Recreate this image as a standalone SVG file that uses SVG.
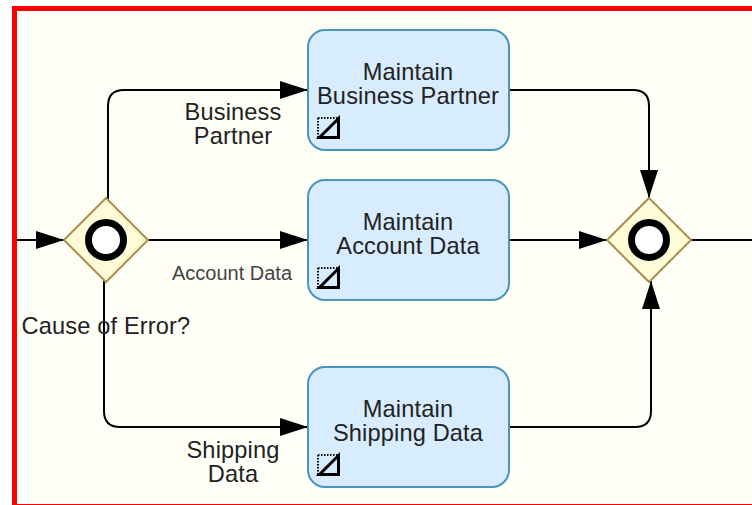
<svg xmlns="http://www.w3.org/2000/svg" width="752" height="505" viewBox="0 0 752 505">
<defs>
<marker id="arrow" markerUnits="userSpaceOnUse" markerWidth="30" markerHeight="22" refX="29" refY="11" orient="auto"><path d="M1 2 L29 11 L1 20 Z" fill="#000"/></marker>
<g id="sub"><path d="M318 118 H339 M318 118 V138" fill="none" stroke="#000" stroke-width="2" stroke-dasharray="1.500 1.500"/><path d="M338.500 118.500 V137.500 H319.500 Z" fill="none" stroke="#000" stroke-width="3"/></g>
</defs>
<style>
.task{fill:#d8ecff;stroke:#4a94b8;stroke-width:2}
.gw{fill:#fffbd6;stroke:#a8904f;stroke-width:2}
.ring{fill:#fff;stroke:#000;stroke-width:7}
.flow{fill:none;stroke:#000;stroke-width:2}
text{font-family:"Liberation Sans",Arial,sans-serif;font-size:23.600px;letter-spacing:.15px;fill:#222;text-anchor:middle}
</style>
<rect x="14.500" y="8.500" width="745" height="498" fill="#fffff7" stroke="#ff0000" stroke-width="5"/>
<g id="connectors">
<path class="flow" d="M17 240 H64" marker-end="url(#arrow)"/>
<path class="flow" d="M108 199 V106 Q108 90 124 90 H308" marker-end="url(#arrow)"/>
<path class="flow" d="M148 240 H308" marker-end="url(#arrow)"/>
<path class="flow" d="M104 281 V411 Q104 427 120 427 H308" marker-end="url(#arrow)"/>
<path class="flow" d="M509 90 H633 Q649 90 649 106 V198" marker-end="url(#arrow)"/>
<path class="flow" d="M509 240 H607" marker-end="url(#arrow)"/>
<path class="flow" d="M509 427 H635 Q651 427 651 411 V281" marker-end="url(#arrow)"/>
<path class="flow" d="M691 240 H752"/>
</g>
<g id="gateway-split"><path class="gw" d="M106 198 L148 240 L106 282 L64 240 Z"/><circle class="ring" cx="106" cy="240" r="17.500"/></g>
<g id="gateway-join"><path class="gw" d="M649 198 L691 240 L649 282 L607 240 Z"/><circle class="ring" cx="649" cy="240" r="17.500"/></g>
<g id="task-partner"><rect class="task" x="308" y="30" width="201" height="120" rx="17"/><text x="408" y="80">Maintain</text><text x="408" y="104">Business Partner</text><use href="#sub"/></g>
<g id="task-account"><rect class="task" x="308" y="180" width="201" height="120" rx="17"/><text x="408" y="230">Maintain</text><text x="408" y="254">Account Data</text><use href="#sub" y="150"/></g>
<g id="task-shipping"><rect class="task" x="308" y="367" width="201" height="120" rx="17"/><text x="408" y="417">Maintain</text><text x="408" y="441">Shipping Data</text><use href="#sub" y="337"/></g>
<g id="labels">
<text x="233" y="120">Business</text><text x="233" y="144">Partner</text>
<text x="232" y="280" style="font-size:20px;letter-spacing:0;fill:#444">Account Data</text>
<text x="106" y="334">Cause of Error?</text>
<text x="233" y="458">Shipping</text><text x="233" y="482">Data</text>
</g>
</svg>
